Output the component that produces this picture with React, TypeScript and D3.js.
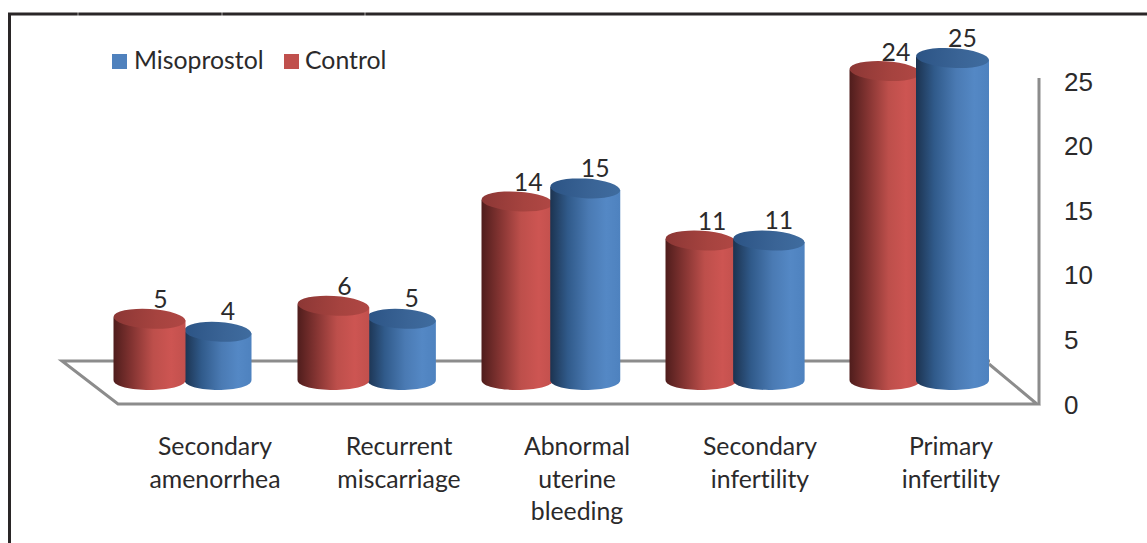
import React from "react";
import * as d3 from "d3";

const categories = ["Secondary amenorrhea", "Recurrent miscarriage", "Abnormal uterine bleeding", "Secondary infertility", "Primary infertility"];
const categoryLines = [["Secondary", "amenorrhea"], ["Recurrent", "miscarriage"], ["Abnormal", "uterine", "bleeding"], ["Secondary", "infertility"], ["Primary", "infertility"]];
const control = [5, 6, 14, 11, 24];
const misoprostol = [4, 5, 15, 11, 25];
const axisTicks = [0, 5, 10, 15, 20, 25];
const labelCenters = [215, 399, 577, 760, 951];

const W = 1147, H = 543;
const yBar = d3.scaleLinear().domain([0, 25]).range([384, 58]);
const yAxis = d3.scaleLinear().domain([0, 25]).range([404, 81]);
const redX = d3.scaleLinear().domain([0, 4]).range([149.5, 885]);
const blueX = d3.scaleLinear().domain([0, 4]).range([218, 952.5]);
const redHalf = d3.scaleLinear().domain([0, 4]).range([36, 35.5]);
const blueHalf = d3.scaleLinear().domain([0, 4]).range([33.5, 36.5]);
const BOTTOM = 380, RY_TOP = 9.8, RY_BOT = 10;
const TILT = 3.5;
const FONT = "Lato, 'Open Sans', sans-serif";
const TEXT = "#2b2a2b";
const GREY = "#8c8c8c";

function Cylinder({ cx, rx, v, kind }: { cx: number; rx: number; v: number; kind: "red" | "blue" }) {
  const top = yBar(v);
  const path = d3.path();
  path.moveTo(cx - rx, top - 1.5);
  path.lineTo(cx - rx, BOTTOM);
  path.bezierCurveTo(cx - rx, BOTTOM + RY_BOT * 1.33, cx + rx, BOTTOM + RY_BOT * 1.33, cx + rx, BOTTOM);
  path.lineTo(cx + rx, top + 1.5);
  path.closePath();
  return (
    <g>
      <path d={path.toString()} fill={`url(#${kind}Side)`} />
      <ellipse cx={cx} cy={top} rx={rx} ry={RY_TOP} fill={`url(#${kind}Top)`} transform={`rotate(${TILT} ${cx} ${top})`} />
    </g>
  );
}

export default function App() {
  const idx = categories.map((_, i) => i);
  return (
    <svg width={W} height={H} viewBox={`0 0 ${W} ${H}`} style={{ position: "absolute", left: 0, top: 0, background: "#fff", fontVariantLigatures: "none" }}>
      <defs>
        <linearGradient id="redSide" x1="0" x2="1" y1="0" y2="0">
          <stop offset="0" stopColor="#4f1d1c" />
          <stop offset="0.25" stopColor="#823331" />
          <stop offset="0.55" stopColor="#bd4f4b" />
          <stop offset="0.8" stopColor="#cd5552" />
          <stop offset="1" stopColor="#c2504d" />
        </linearGradient>
        <linearGradient id="blueSide" x1="0" x2="1" y1="0" y2="0">
          <stop offset="0" stopColor="#1c3350" />
          <stop offset="0.25" stopColor="#305a8a" />
          <stop offset="0.55" stopColor="#4a7ab3" />
          <stop offset="0.8" stopColor="#5488c5" />
          <stop offset="1" stopColor="#4e82bf" />
        </linearGradient>
        <linearGradient id="redTop" x1="0" x2="1" y1="0" y2="0">
          <stop offset="0" stopColor="#8c3735" />
          <stop offset="0.6" stopColor="#a6433f" />
          <stop offset="1" stopColor="#b04744" />
        </linearGradient>
        <linearGradient id="blueTop" x1="0" x2="1" y1="0" y2="0">
          <stop offset="0" stopColor="#2c5485" />
          <stop offset="0.6" stopColor="#3a6496" />
          <stop offset="1" stopColor="#3f6c9f" />
        </linearGradient>
      </defs>

      <path d={`M1147 14H9.5V${H}`} fill="none" stroke="#2a2627" strokeWidth={3} />
      {[78, 222, 365].map((x) => (
        <line key={x} x1={x} x2={x} y1={12} y2={16} stroke="#fff" strokeWidth={0.8} opacity={0.7} />
      ))}

      <path d="M990 361H62L118 404H1037L989 364" fill="none" stroke={GREY} strokeWidth={3} />
      <line x1={1039} x2={1039} y1={78} y2={405} stroke={GREY} strokeWidth={3} />

      {idx.map((i) => {
        const r = <Cylinder key="r" cx={redX(i)} rx={redHalf(i)} v={control[i]} kind="red" />;
        const b = <Cylinder key="b" cx={blueX(i)} rx={blueHalf(i)} v={misoprostol[i]} kind="blue" />;
        return <g key={categories[i]}>{i < 2 ? [b, r] : [r, b]}</g>;
      })}

      <g fontFamily={FONT} fontSize={24.8} fill={TEXT} textAnchor="middle">
        {idx.map((i) => (
          <g key={i}>
            <text x={redX(i) + 11} y={yBar(control[i]) - 10.5}>{control[i]}</text>
            <text x={blueX(i) + 10} y={yBar(misoprostol[i]) - 11.5}>{misoprostol[i]}</text>
          </g>
        ))}
        {categoryLines.map((lines, i) => (
          <text key={i} x={labelCenters[i]}>
            {lines.map((l, j) => (
              <tspan key={j} x={labelCenters[i]} y={455 + j * 32.5}>{l}</tspan>
            ))}
          </text>
        ))}
      </g>

      <g fontFamily="'Liberation Sans', Arial, sans-serif" fontSize={26} fill={TEXT}>
        {axisTicks.map((t) => (
          <text key={t} x={1064} y={yAxis(t) + 9.5}>{t}</text>
        ))}
      </g>

      <g fontFamily={FONT} fontSize={24.8} fill={TEXT}>
        <rect x={112} y={54} width={15} height={15} fill="#4f81bd" />
        <text x={134} y={69}>Misoprostol</text>
        <rect x={284} y={54} width={15} height={15} fill="#c0504d" />
        <text x={305} y={69}>Control</text>
      </g>
    </svg>
  );
}
